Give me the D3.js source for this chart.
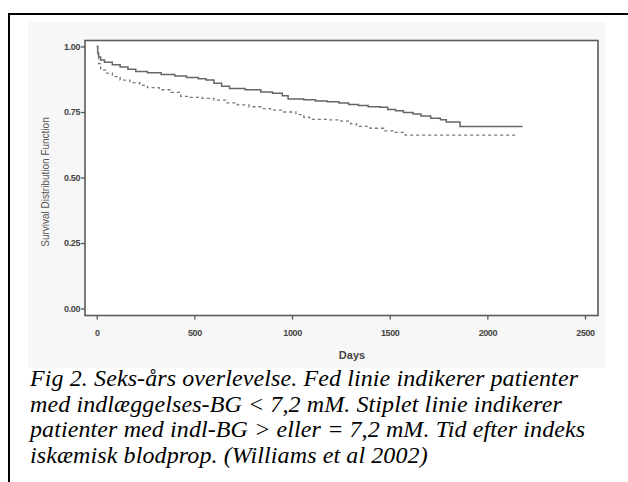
<!DOCTYPE html>
<html>
<head>
<meta charset="utf-8">
<script src="https://cdn.jsdelivr.net/npm/d3@7"></script>
<style>
    html, body { margin: 0; padding: 0; background: #fff; }
    #km-graph { width: 628px; height: 482px; }
</style>
</head>
<body>
<div id="km-graph"></div>
<script>
// Kaplan-Meier data (days, survival)
const lowDays = [0, 5, 10, 20, 40, 80, 120, 160, 200, 260, 330, 400, 460, 520, 560, 600, 640, 680, 760, 840, 900, 950, 980, 1060, 1120, 1180, 1240, 1290, 1340, 1390, 1450, 1490, 1530, 1570, 1620, 1660, 1710, 1760, 1790, 1860, 2180];
const lowSurv = [1.00, 0.975, 0.96, 0.948, 0.94, 0.93, 0.922, 0.913, 0.905, 0.90, 0.893, 0.887, 0.882, 0.877, 0.872, 0.86, 0.848, 0.84, 0.835, 0.826, 0.822, 0.812, 0.80, 0.797, 0.792, 0.789, 0.784, 0.779, 0.775, 0.77, 0.768, 0.76, 0.755, 0.748, 0.742, 0.735, 0.726, 0.72, 0.712, 0.695, 0.695];
const highDays = [0, 5, 10, 20, 50, 80, 120, 170, 220, 260, 320, 380, 430, 480, 540, 600, 660, 720, 780, 840, 890, 950, 1020, 1060, 1090, 1180, 1250, 1300, 1330, 1400, 1470, 1520, 1580, 2155];
const highSurv = [1.00, 0.96, 0.935, 0.91, 0.898, 0.885, 0.872, 0.862, 0.852, 0.843, 0.835, 0.825, 0.81, 0.806, 0.802, 0.795, 0.785, 0.777, 0.77, 0.763, 0.757, 0.75, 0.74, 0.73, 0.722, 0.72, 0.715, 0.705, 0.695, 0.688, 0.678, 0.672, 0.662, 0.662];
const xTicks = [0, 500, 1000, 1500, 2000, 2500];
const yTicks = [0, 0.25, 0.5, 0.75, 1];
const captionLines = [
    "Fig 2. Seks-års overlevelse. Fed linie indikerer patienter",
    "med indlæggelses-BG < 7,2 mM. Stiplet linie indikerer",
    "patienter med indl-BG > eller = 7,2 mM. Tid efter indeks",
    "iskæmisk blodprop. (Williams et al 2002)"
];

/**
 * Sets up the svg with the outer frame and the grey scan background.
 */
function initializeSVG() {
    const svg = d3.select("#km-graph")
        .append("svg")
        .attr("width", 628)
        .attr("height", 482);
    svg.append("rect")
        .attr("x", 28).attr("y", 22)
        .attr("width", 578).attr("height", 346)
        .attr("fill", "#f7f7f7");
    svg.append("path")
        .attr("d", "M9,482 V14 H640")
        .attr("fill", "none")
        .attr("stroke", "#000")
        .attr("stroke-width", 2);
    return svg;
}

/**
 * Scales, frame and axes of the plot.
 */
function drawAxes(svg) {
    const x = d3.scaleLinear().domain([0, 2500]).range([96.7, 585]);
    const y = d3.scaleLinear().domain([0, 1]).range([308.5, 46.5]);
    const box = { left: 85, right: 598, top: 40.5, bottom: 315.5 };

    svg.append("rect")
        .attr("x", box.left).attr("y", box.top)
        .attr("width", box.right - box.left)
        .attr("height", box.bottom - box.top)
        .attr("fill", "#fff")
        .attr("stroke", "#5a5a5a")
        .attr("stroke-width", 1.6);

    const gx = svg.append("g")
        .attr("transform", `translate(0,${box.bottom})`)
        .call(d3.axisBottom(x).tickValues(xTicks).tickSize(4).tickPadding(10).tickFormat(d3.format("d")));
    const gy = svg.append("g")
        .attr("transform", `translate(${box.left},0)`)
        .call(d3.axisLeft(y).tickValues(yTicks).tickSize(4).tickPadding(1).tickFormat(d3.format(".2f")));

    [gx, gy].forEach(g => {
        g.select(".domain").remove();
        g.selectAll("line").attr("stroke", "#555").attr("stroke-width", 1.3);
        g.selectAll("text")
            .attr("fill", "#444")
            .attr("font-family", "Liberation Sans, Arial, sans-serif")
            .attr("font-size", 9)
            .attr("font-weight", "bold")
            .attr("letter-spacing", "-0.4");
    });

    svg.append("text")
        .attr("x", 352).attr("y", 359)
        .attr("text-anchor", "middle")
        .attr("font-family", "Liberation Sans, Arial, sans-serif")
        .attr("font-size", 11)
        .attr("font-weight", "bold")
        .attr("fill", "#444")
        .text("Days");

    svg.append("text")
        .attr("transform", "translate(49,182) rotate(-90)")
        .attr("text-anchor", "middle")
        .attr("font-family", "Liberation Sans, Arial, sans-serif")
        .attr("font-size", 10)
        .attr("fill", "#555")
        .text("Survival Distribution Function");

    return { x, y };
}

/**
 * Draws the two step curves.
 */
function drawCurves(svg, x, y) {
    const line = d3.line()
        .x(d => x(d[0]))
        .y(d => y(d[1]))
        .curve(d3.curveStepAfter);
    svg.append("path")
        .datum(d3.zip(lowDays, lowSurv))
        .attr("fill", "none")
        .attr("stroke", "#666")
        .attr("stroke-width", 1.5)
        .attr("d", line);
    svg.append("path")
        .datum(d3.zip(highDays, highSurv))
        .attr("fill", "none")
        .attr("stroke", "#777")
        .attr("stroke-width", 1.3)
        .attr("stroke-dasharray", "3,3")
        .attr("d", line);
}

/**
 * Italic caption under the figure.
 */
function drawCaption(svg) {
    svg.append("g")
        .attr("font-family", "Liberation Serif, Times New Roman, serif")
        .attr("font-style", "italic")
        .attr("font-size", 24)
        .attr("fill", "#000")
        .selectAll("text")
        .data(captionLines)
        .enter().append("text")
        .attr("x", 30)
        .attr("y", (d, i) => 386 + i * 25.7)
        .attr("letter-spacing", "0.1")
        .text(d => d);
}

function addKMGraph() {
    const svg = initializeSVG();
    const { x, y } = drawAxes(svg);
    drawCurves(svg, x, y);
    drawCaption(svg);
}

addKMGraph();
</script>
</body>
</html>
